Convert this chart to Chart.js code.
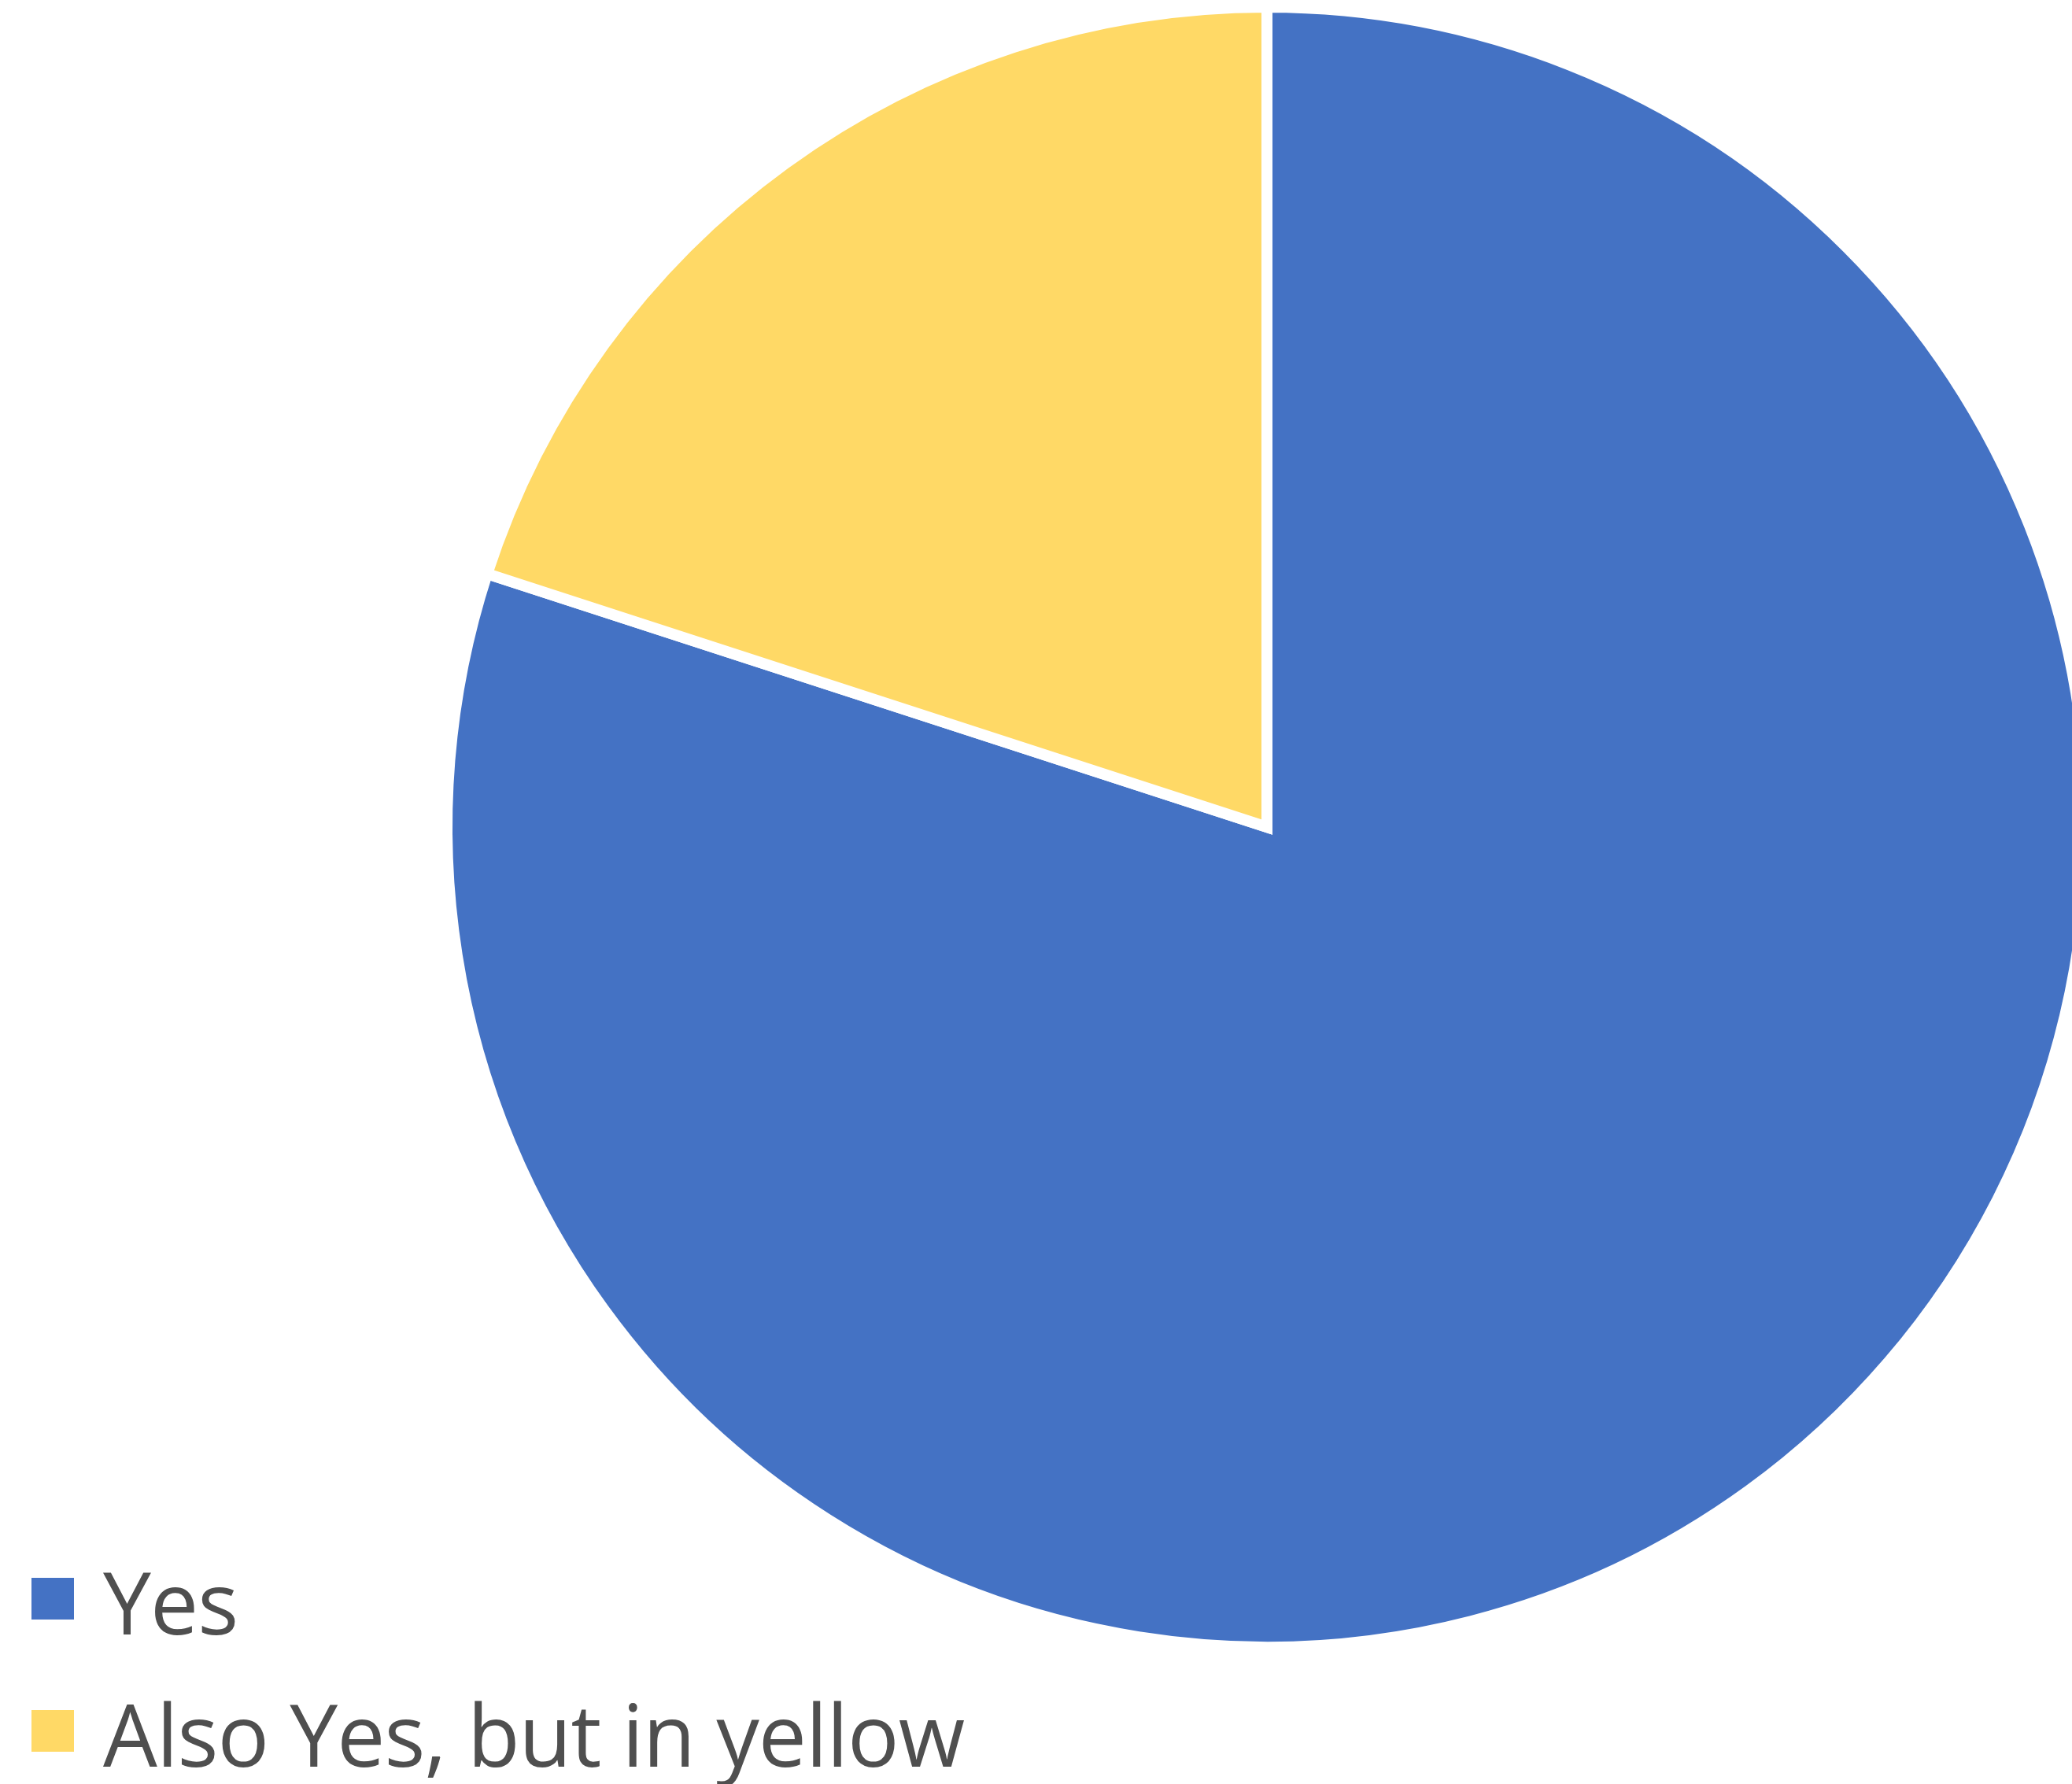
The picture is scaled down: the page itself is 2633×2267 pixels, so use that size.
<!DOCTYPE html>
<html>
<head>
<meta charset="utf-8">
<script src="https://cdn.jsdelivr.net/npm/chart.js@4"></script>
<style>
  html, body { margin: 0; padding: 0; background: #fff; overflow: hidden; width: 2633px; height: 2267px; }
  #wrap { position: absolute; left: 0; top: 0; width: 2700px; height: 2267px; }
  #legend { position: absolute; left: 0; top: 1951px; margin: 0; padding: 0; list-style: none;
    font-family: "Open Sans", Lato, sans-serif; font-size: 109px; font-weight: 500; letter-spacing: -1px; color: #4f4f4f; }
  #legend li { position: relative; height: 168px; line-height: 168px; padding-left: 131px; white-space: nowrap; }
  #legend .box { position: absolute; left: 40px; top: 54px; width: 54px; height: 53px; }
</style>
</head>
<body>
<div id="wrap"><canvas id="pie"></canvas></div>
<ul id="legend"></ul>
<script>
// data
const labels = ['Yes', 'Also Yes, but in yellow'];
const values = [80, 20];
const colors = ['#4472C4', '#FFD966'];

const ctx = document.getElementById('pie').getContext('2d');

const pie = new Chart(ctx, {
    type: 'pie',
    data: {
        labels: labels,
        datasets: [{
            data: values,
            backgroundColor: colors,
            borderColor: '#ffffff',
            borderWidth: 14,
            borderJoinStyle: 'miter',
            hoverOffset: 0,
            offset: 0
        }]
    },
    options: {
        responsive: true,
        maintainAspectRatio: false,
        devicePixelRatio: 1,
        animation: false,
        layout: {
            padding: { left: 561, right: 41, top: 2, bottom: 167 }
        },
        plugins: {
            legend: { display: false },
            tooltip: { enabled: false }
        }
    }
});

// legend built from the same arrays
const legend = document.getElementById('legend');
labels.forEach((name, i) => {
    const li = document.createElement('li');
    const box = document.createElement('span');
    box.className = 'box';
    box.style.background = colors[i];
    li.appendChild(box);
    li.appendChild(document.createTextNode(name));
    legend.appendChild(li);
});
</script>
</body>
</html>
